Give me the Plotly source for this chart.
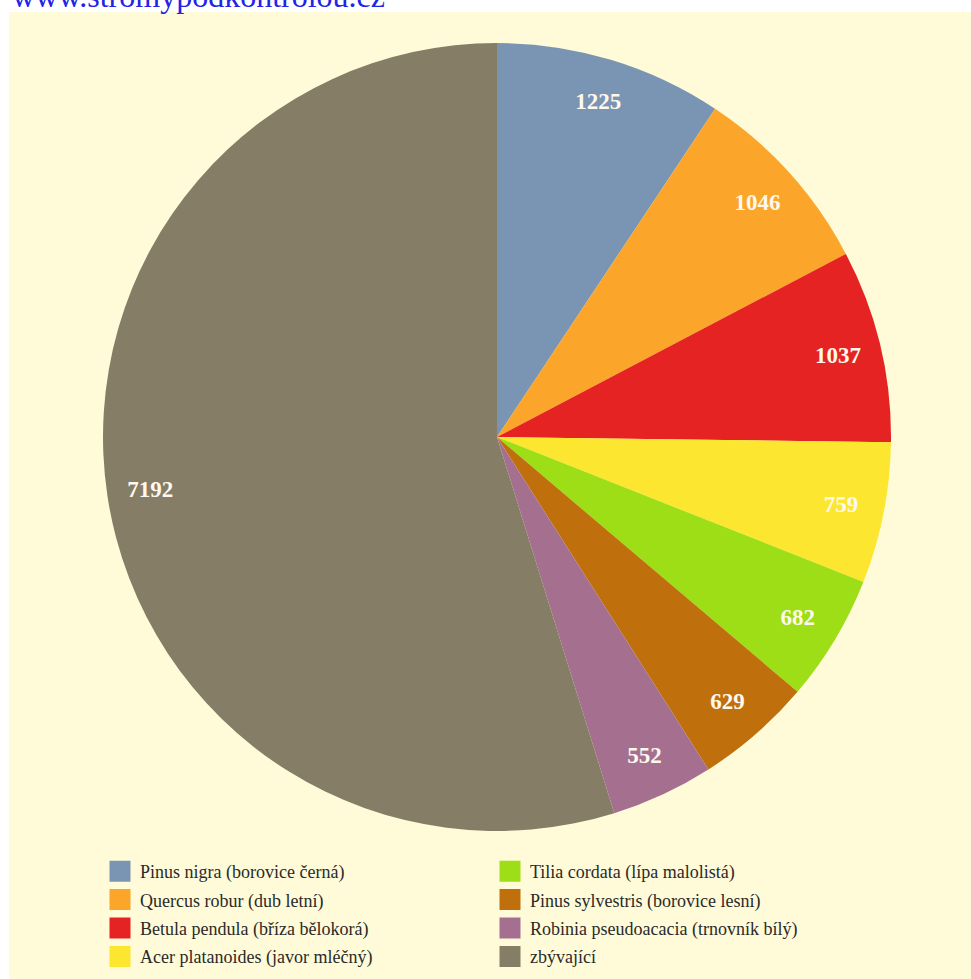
import plotly.graph_objects as go

labels = [
    "Pinus nigra (borovice černá)",
    "Quercus robur (dub letní)",
    "Betula pendula (bříza bělokorá)",
    "Acer platanoides (javor mléčný)",
    "Tilia cordata (lípa malolistá)",
    "Pinus sylvestris (borovice lesní)",
    "Robinia pseudoacacia (trnovník bílý)",
    "zbývající",
]
values = [1225, 1046, 1037, 759, 682, 629, 552, 7192]
colors = ["#7A95B3", "#FBA52A", "#E52322", "#FDE630",
          "#9DDE16", "#BF6F0C", "#A5708F", "#867D67"]
site_text = "www.stromypodkontrolou.cz"

W, H = 971, 979
cx, cy, R = 497, 437, 394
dom_x = [(cx - R) / W, (cx + R) / W]
dom_y = [1 - (cy + R) / H, 1 - (cy - R) / H]

fig = go.Figure()

fig.add_trace(go.Pie(
    labels=labels, values=values, sort=False, direction="clockwise",
    marker=dict(colors=colors, line=dict(width=0)),
    textinfo="none", showlegend=False, domain=dict(x=dom_x, y=dom_y),
    hoverinfo="label+value",
))

fig.add_trace(go.Pie(
    labels=labels, values=values, sort=False, direction="clockwise",
    hole=0.78,
    marker=dict(colors=["rgba(0,0,0,0)"] * len(values), line=dict(width=0)),
    text=[str(v) for v in values], textinfo="text", textposition="inside",
    insidetextorientation="horizontal",
    textfont=dict(family="Liberation Serif", size=23, color="#FFF8EC", weight="bold"),
    showlegend=False, domain=dict(x=dom_x, y=dom_y), hoverinfo="skip",
))

for i, (lab, col) in enumerate(zip(labels, colors)):
    fig.add_trace(go.Scatter(
        x=[None], y=[None], mode="markers", name=lab,
        marker=dict(symbol="square", size=20, color=col, line=dict(color=col, width=8)),
        legend="legend" if i < 4 else "legend2",
        legendgroup=f"g{i}",
    ))

legend_common = dict(
    font=dict(family="Liberation Serif", size=18, color="#2A2A2A"),
    bgcolor="rgba(0,0,0,0)", orientation="v",
    xanchor="left", yanchor="top", tracegroupgap=2,
    itemclick=False, itemdoubleclick=False,
)

fig.update_layout(
    width=W, height=H,
    margin=dict(l=0, r=0, t=0, b=0),
    paper_bgcolor="#FFFBD8", plot_bgcolor="rgba(0,0,0,0)",
    xaxis=dict(visible=False, range=[0, 1]),
    yaxis=dict(visible=False, range=[0, 1]),
    legend=dict(x=100 / W, y=1 - 853 / H, **legend_common),
    legend2=dict(x=490 / W, y=1 - 853 / H, **legend_common),
    shapes=[
        dict(type="rect", xref="paper", yref="paper", x0=0, x1=1,
             y0=1 - 12 / H, y1=1.01, fillcolor="white", line=dict(width=0), layer="below"),
        dict(type="rect", xref="paper", yref="paper", x0=-0.01, x1=9 / W,
             y0=0, y1=1.01, fillcolor="white", line=dict(width=0), layer="below"),
    ],
    annotations=[
        dict(text=site_text, xref="paper", yref="paper", x=10 / W, y=1 - 16 / H,
             xanchor="left", yanchor="bottom", showarrow=False,
             font=dict(family="Liberation Serif", size=32, color="#2323E6")),
    ],
)

fig.write_html(
    "out.html",
    config={"displayModeBar": False},
    post_script="document.body.style.margin='0';document.body.style.overflow='hidden';",
)
